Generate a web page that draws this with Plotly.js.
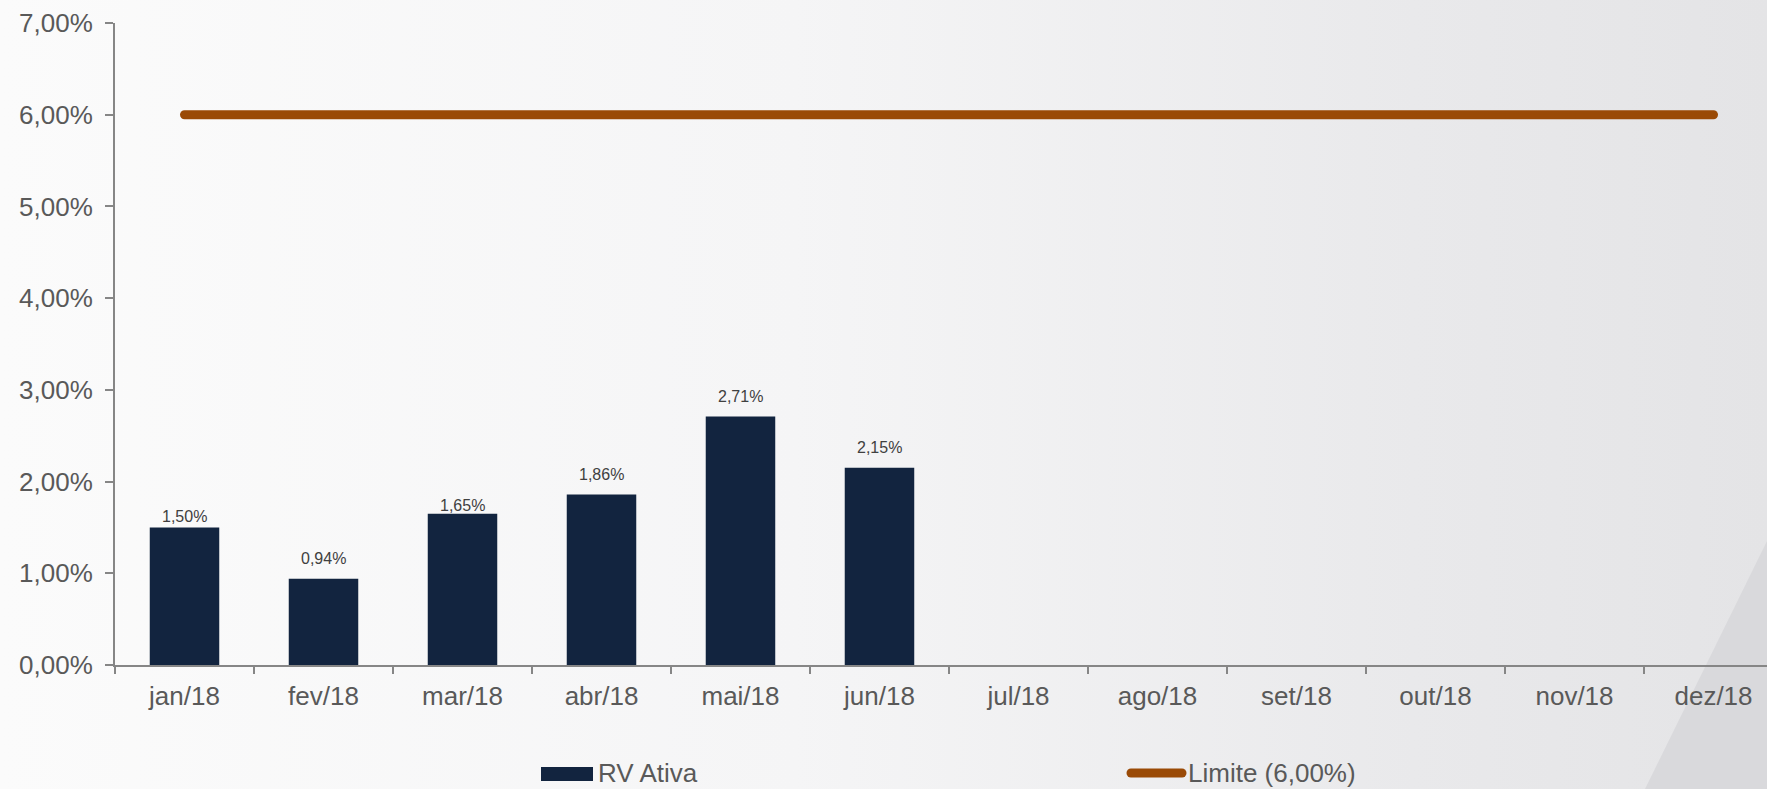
<!DOCTYPE html>
<html>
<head>
<meta charset="utf-8">
<script src="https://cdn.plot.ly/plotly-3.0.1.min.js"></script>
<style>
  html, body { margin: 0; padding: 0; width: 1767px; height: 789px; overflow: hidden; }
  body { position: relative; background: linear-gradient(to right, #fbfbfb 0%, #f5f5f6 45%, #e9e9eb 80%, #e4e4e6 100%); }
  #wedge { position: absolute; left: 0; top: 0; width: 1767px; height: 789px;
           background: #d9d9dc; clip-path: polygon(1645px 789px, 1767px 541px, 1767px 789px); }
  #chart { position: absolute; left: 0; top: 0; width: 1767px; height: 789px; }
  #chart path.js-line { stroke-linecap: round; }
  #chart .shapelayer path { stroke-linecap: round; }
</style>
</head>
<body>
<div id="wedge"></div>
<div id="chart"></div>
<script>
// ---- data ----
const months = ["jan/18","fev/18","mar/18","abr/18","mai/18","jun/18","jul/18","ago/18","set/18","out/18","nov/18","dez/18"];
const rvMonths = ["jan/18","fev/18","mar/18","abr/18","mai/18","jun/18"];
const rvAtiva = [1.50, 0.94, 1.65, 1.86, 2.71, 2.15];
const limite = [6, 6, 6, 6, 6, 6, 6, 6, 6, 6, 6, 6];
const seriesNames = ["RV Ativa", "Limite (6,00%)"];
const yTicks = [0, 1, 2, 3, 4, 5, 6, 7];

// ---- styles ----
const labelLift = [11, 20, 8.5, 20, 20, 20];
const font = "Liberation Sans, Arial, sans-serif";
const axisGray = "#868686";
const textGray = "#595959";
const barColor = "#12243f";
const lineColor = "#9a4a06";

const fmt = v => v.toFixed(2).replace(".", ",") + "%";

// plot area in pixels (for the drawn legend)
const W = 1767, H = 789, ML = 115, MT = 23, MB = 124;
const PW = W - ML, PH = H - MT - MB;
const px = x => (x - ML) / PW;
const py = y => (H - MB - y) / PH;

const traces = [
  {
    type: "bar",
    name: seriesNames[0],
    x: rvMonths,
    y: rvAtiva,
    marker: { color: barColor, line: { width: 0 } },
    hoverinfo: "skip"
  },
  {
    type: "scatter",
    mode: "lines",
    name: seriesNames[1],
    x: months,
    y: limite,
    line: { color: lineColor, width: 9 },
    hoverinfo: "skip"
  }
];

const annotations = rvAtiva.map((v, i) => ({
  x: rvMonths[i], y: v, xref: "x", yref: "y",
  text: fmt(v), showarrow: false, yanchor: "middle", yshift: labelLift[i],
  font: { family: font, size: 16, color: "#404040" }
}));

// legend (drawn)
annotations.push(
  { xref: "paper", yref: "paper", x: px(596), y: py(773), xanchor: "left", yanchor: "middle",
    text: seriesNames[0], showarrow: false, font: { family: font, size: 26, color: textGray } },
  { xref: "paper", yref: "paper", x: px(1186), y: py(773), xanchor: "left", yanchor: "middle",
    text: seriesNames[1], showarrow: false, font: { family: font, size: 26, color: textGray } }
);
const shapes = [
  { type: "rect", xref: "paper", yref: "paper", x0: px(541), x1: px(593), y0: py(781), y1: py(767),
    fillcolor: barColor, line: { width: 0 } },
  { type: "line", xref: "paper", yref: "paper", x0: px(1131), x1: px(1182), y0: py(773), y1: py(773),
    line: { color: lineColor, width: 9 } }
];

const layout = {
  width: W, height: H, autosize: false,
  margin: { l: ML, r: 0, t: MT, b: MB, pad: 0 },
  paper_bgcolor: "rgba(0,0,0,0)",
  plot_bgcolor: "rgba(0,0,0,0)",
  separators: ",.",
  bargap: 0.5,
  showlegend: false,
  font: { family: font, color: textGray, size: 26 },
  xaxis: {
    type: "category",
    categoryorder: "array",
    categoryarray: months,
    range: [-0.5, 11.385],
    showline: true, linecolor: axisGray, linewidth: 2,
    ticks: "outside", tickson: "boundaries", ticklen: 7, tickwidth: 2, tickcolor: axisGray,
    showgrid: false, zeroline: false,
    tickfont: { family: font, size: 26, color: textGray },
    ticklabelstandoff: 7,
    fixedrange: true
  },
  yaxis: {
    range: [0, 7],
    tickvals: yTicks,
    ticktext: yTicks.map(fmt),
    showline: true, linecolor: axisGray, linewidth: 2,
    ticks: "outside", ticklen: 8, tickwidth: 2, tickcolor: axisGray,
    showgrid: false, zeroline: false,
    tickfont: { family: font, size: 26, color: textGray },
    ticklabelstandoff: 7,
    fixedrange: true
  },
  annotations: annotations,
  shapes: shapes
};

Plotly.newPlot("chart", traces, layout, { staticPlot: true, displayModeBar: false });
</script>
</body>
</html>
